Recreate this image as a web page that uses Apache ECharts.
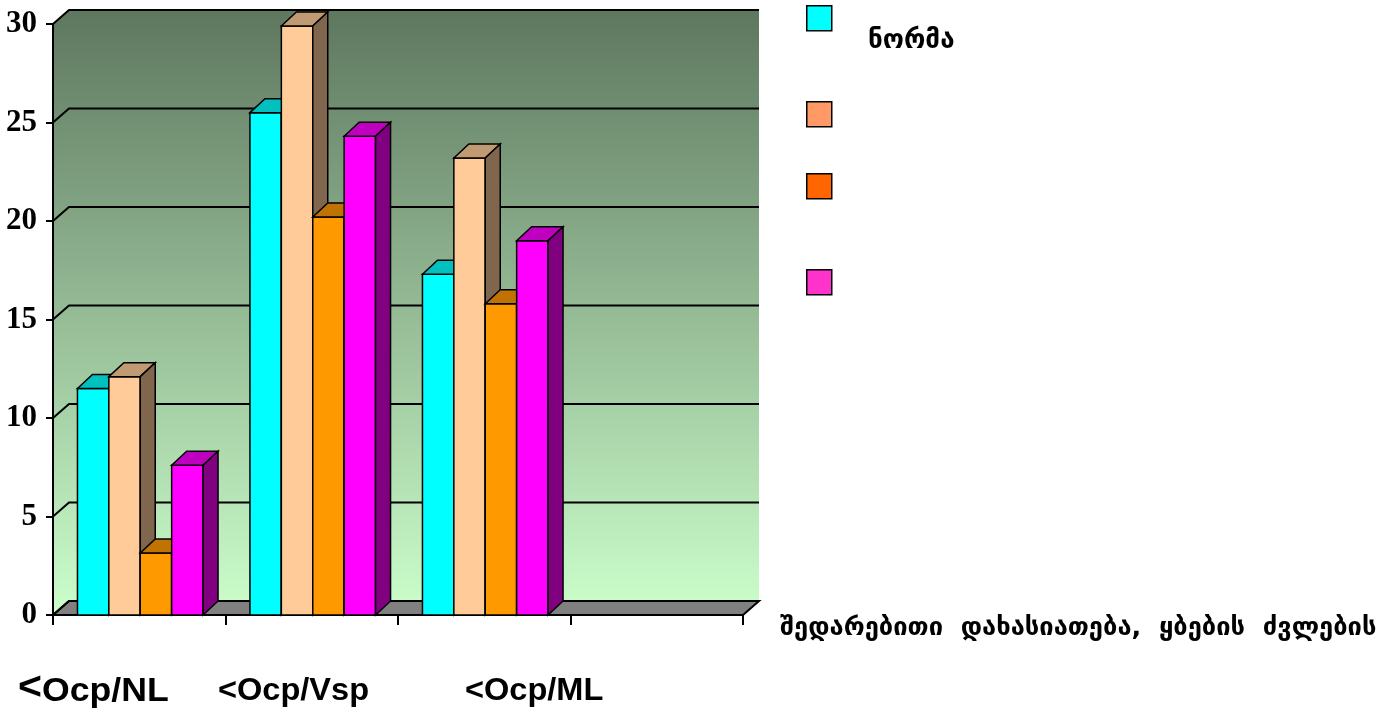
<!DOCTYPE html>
<html><head><meta charset="utf-8">
<script src="https://cdn.jsdelivr.net/npm/echarts@6/dist/echarts.min.js"></script>
<style>html,body{margin:0;padding:0;background:#fff}#c{width:1392px;height:711px}</style>
</head><body><div id="c"></div>
<script>
// ---- data ----
const categories = ['<Ocp/NL', '<Ocp/Vsp', '<Ocp/ML', ''];
const seriesNames = ['ნორმა', 'S2', 'S3', 'S4'];
const s1 = [11.5, 25.5, 17.3];
const s2 = [12.1, 29.9, 23.2];
const s3 = [3.15, 20.2, 15.8];
const s4 = [7.6, 24.3, 19.0];
const yTicks = [0, 5, 10, 15, 20, 25, 30];
const legendLabels = ['ნორმა', '', '', ''];
const axisTitle = 'შედარებითი  დახასიათება,  ყბების  ძვლების';

// ---- styles ----
const seriesValues = [s1, s2, s3, s4];
const barColors = [
  {front:'#00FFFF', top:'#00C0C0', side:'#008080'},
  {front:'#FFCC99', top:'#C09A73', side:'#80664C'},
  {front:'#FF9900', top:'#C07300', side:'#804C00'},
  {front:'#FF00FF', top:'#C000C0', side:'#800080'}
];
const legendColors = ['#00FFFF', '#FF9966', '#FF6600', '#FF33CC'];
const legendTops = [5, 101, 173, 269];
const DX = 15, DY = -14;     // bar depth
const WDX = 16, WDY = -14;   // wall depth

const chart = echarts.init(document.getElementById('c'));

function barRender(si) {
  return function (params, api) {
    const cat = api.value(0), val = api.value(1);
    const top = api.coord([cat, val]);
    const base = api.coord([cat, 0]);
    const B = api.size([1, 0])[0];
    const w = B * 0.182;
    const xL = top[0] - 2 * w + si * w + 1;
    const xR = xL + w;
    const yT = top[1], yB = base[1];
    const c = barColors[si];
    const st = {stroke: '#000', lineWidth: 1.5, lineJoin: 'miter'};
    return {type: 'group', children: [
      {type: 'polygon', shape: {points: [[xL, yB], [xL, yT], [xR, yT], [xR, yB]]}, style: Object.assign({fill: c.front}, st)},
      {type: 'polygon', shape: {points: [[xL, yT], [xL + DX, yT + DY], [xR + DX, yT + DY], [xR, yT]]}, style: Object.assign({fill: c.top}, st)},
      {type: 'polygon', shape: {points: [[xR, yT], [xR + DX, yT + DY], [xR + DX, yB + DY], [xR, yB]]}, style: Object.assign({fill: c.side}, st)}
    ]};
  };
}

function wallRender(params, api) {
  const cs = params.coordSys;
  const x0 = cs.x, x1 = cs.x + cs.width;
  const yTop = api.coord([0, yTicks[yTicks.length - 1]])[1];
  const yBot = api.coord([0, 0])[1];
  const children = [];
  children.push({type: 'polygon', shape: {points: [[x0, yBot], [x0, yTop], [x0 + WDX, yTop + WDY], [x1 + WDX, yTop + WDY], [x1 + WDX, yBot + WDY], [x0, yBot]]},
    style: {fill: new echarts.graphic.LinearGradient(0, 0, 0, 1, [{offset: 0, color: '#5e775f'}, {offset: 1, color: '#ccffcc'}]), stroke: null}});
  children.push({type: 'polygon', shape: {points: [[x0, yBot], [x0 + WDX, yBot + WDY], [x1 + WDX, yBot + WDY], [x1, yBot]]},
    style: {fill: '#808080', stroke: '#000', lineWidth: 2}});
  yTicks.forEach(function (v) {
    const y = api.coord([0, v])[1];
    children.push({type: 'polyline', shape: {points: [[x0, y], [x0 + WDX, y + WDY], [x1 + WDX, y + WDY]]},
      style: {stroke: '#000', lineWidth: 2, fill: null}});
  });
  return {type: 'group', children: children};
}

const series = [{
  type: 'custom', name: '_wall', z: -1, silent: true,
  renderItem: wallRender, data: [[0, 0]], encode: {x: 0, y: 1}
}];
seriesValues.forEach(function (vals, si) {
  series.push({
    type: 'custom', name: seriesNames[si], z: 2 + si,
    renderItem: barRender(si),
    itemStyle: {color: barColors[si].front},
    encode: {x: 0, y: 1},
    data: vals.map(function (v, i) { return [i, v]; })
  });
});

const labelLefts = [18, 218, 465];
const labelFont = '"Liberation Sans", Arial, sans-serif';
const graphics = [];
categories.forEach(function (c, i) {
  if (!c) return;
  if (i === 0) {
    graphics.push({type: 'text', left: labelLefts[i], top: 670, scaleX: 1.08,
      style: {text: '{a|' + c.charAt(0) + '}{b|' + c.slice(1) + '}', rich: {
        a: {fontSize: 38, fontWeight: 'bold', fontFamily: labelFont, fill: '#000', verticalAlign: 'bottom'},
        b: {fontSize: 33, fontWeight: 'bold', fontFamily: labelFont, fill: '#000', verticalAlign: 'bottom'}}}});
  } else {
    graphics.push({type: 'text', left: labelLefts[i], top: 676, scaleX: 1.05,
      style: {text: c, font: 'bold 31px ' + labelFont, fill: '#000'}});
  }
});
graphics.push({type: 'text', left: 780, top: 615, style: {text: axisTitle, font: 'bold 25.5px "DejaVu Sans", sans-serif', fill: '#000'}});
graphics.push({type: 'text', left: 868, top: 28, style: {text: legendLabels[0], font: 'bold 26px "DejaVu Sans", sans-serif', fill: '#000'}});

chart.setOption({
  animation: false,
  backgroundColor: '#fff',
  grid: {left: 53, top: 24, right: 649, bottom: 96},
  xAxis: {
    type: 'category', data: categories, boundaryGap: true,
    axisLine: {lineStyle: {color: '#000', width: 2}},
    axisTick: {show: true, length: 10, lineStyle: {color: '#000', width: 2}},
    axisLabel: {show: false},
    splitLine: {show: false}
  },
  yAxis: {
    type: 'value', min: 0, max: 30, interval: 5,
    axisLine: {show: true, lineStyle: {color: '#000', width: 2}},
    axisTick: {show: true, length: 7, lineStyle: {color: '#000', width: 2}},
    axisLabel: {margin: 16, color: '#000', fontSize: 31, fontWeight: 'bold', fontFamily: '"Liberation Serif", "Times New Roman", serif'},
    splitLine: {show: false}
  },
  legend: legendTops.map(function (t, i) {
    return {
      data: [{name: seriesNames[i], itemStyle: {color: legendColors[i], borderColor: '#000', borderWidth: 1.5}}],
      left: 806, top: t, orient: 'vertical', icon: 'rect', itemWidth: 25, itemHeight: 25,
      formatter: function () { return ''; }, selectedMode: false, padding: 0
    };
  }),
  graphic: graphics,
  series: series
});
</script></body></html>
